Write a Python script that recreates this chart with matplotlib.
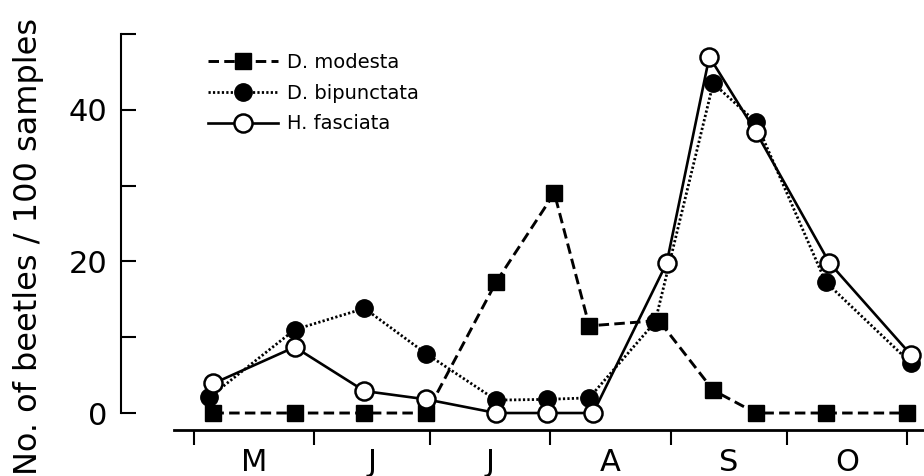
#!/usr/bin/env python3

import numpy as np
import matplotlib.pyplot as plt

# sampling dates, days counted from 1 May
modesta_day = [5, 26, 44, 60, 78, 93, 102, 120, 134, 145, 163, 184]
bipunctata_day = [4, 26, 44, 60, 78, 91, 102, 119, 134, 145, 163, 185]
fasciata_day = [5, 26, 44, 60, 78, 91, 103, 122, 133, 145, 164, 185]

# beetles per 100 samples
modesta = [0, 0, 0, 0, 17.3, 29.0, 11.5, 12.2, 3.0, 0, 0, 0]
bipunctata = [2.1, 11.0, 13.8, 7.8, 1.7, 1.8, 2.0, 12.0, 43.5, 38.4, 17.3, 6.6]
fasciata = [3.9, 8.7, 2.9, 1.8, 0, 0, 0, 19.8, 47.0, 37.1, 19.8, 7.7]

month_start = [0, 31, 61, 92, 123, 153, 184]
month_labels = ["M", "J", "J", "A", "S", "O"]
y_ticks = [0, 10, 20, 30, 40, 50]
y_labels = ["0", "", "20", "", "40", ""]


def main():
    fig = plt.figure(figsize=(9.24, 4.76), dpi=100)
    ax = fig.add_axes([121 / 924, 46 / 476, 803 / 924, 396 / 476])

    ax.plot(modesta_day, modesta, color="black", lw=2.1, dashes=(3.6, 1.8),
            marker="s", ms=12, mfc="black", mec="black", clip_on=False,
            label="D. modesta", zorder=3)
    ax.plot(bipunctata_day, bipunctata, color="black", lw=2.0, dashes=(0.8, 0.8),
            marker="o", ms=12.5, mfc="black", mec="black", clip_on=False,
            label="D. bipunctata", zorder=4)
    ax.plot(fasciata_day, fasciata, color="black", lw=1.9, ls="-",
            marker="o", ms=13, mfc="white", mec="black", mew=1.8, clip_on=False,
            label="H. fasciata", zorder=5)

    ax.set_xlim(-18.84, 188.4)
    ax.set_ylim(-2.24, 50)

    for s in ["top", "right"]:
        ax.spines[s].set_visible(False)
    ax.spines["left"].set_bounds(0, 50)
    ax.spines["left"].set_linewidth(1.5)
    ax.spines["bottom"].set_bounds(-5.2, 188.4)
    ax.spines["bottom"].set_linewidth(2.0)

    ax.set_yticks(y_ticks)
    ax.set_yticklabels(y_labels, fontsize=22)
    ax.tick_params(axis="y", direction="in", length=11, width=1.5, pad=10)

    mids = [(a + b) / 2 for a, b in zip(month_start[:-1], month_start[1:])]
    ax.set_xticks(month_start)
    ax.set_xticklabels([])
    ax.set_xticks(mids, minor=True)
    ax.set_xticklabels(month_labels, minor=True, fontsize=22)
    ax.tick_params(axis="x", which="major", direction="out", length=11, width=1.5)
    ax.tick_params(axis="x", which="minor", length=0, pad=13)

    fig.text(29 / 924, 1 - 246 / 476, "No. of beetles / 100 samples",
             rotation=90, ha="center", va="center", fontsize=23)

    ax.legend(loc="upper left", bbox_to_anchor=(208 / 924, 1 - 53 / 476),
              bbox_transform=fig.transFigure, frameon=False, fontsize=14,
              handlelength=3.6, handletextpad=0.45, labelspacing=0.6,
              borderpad=0, borderaxespad=0, numpoints=1)

    fig.savefig("out.png", dpi=100)


if __name__ == "__main__":
    main()
